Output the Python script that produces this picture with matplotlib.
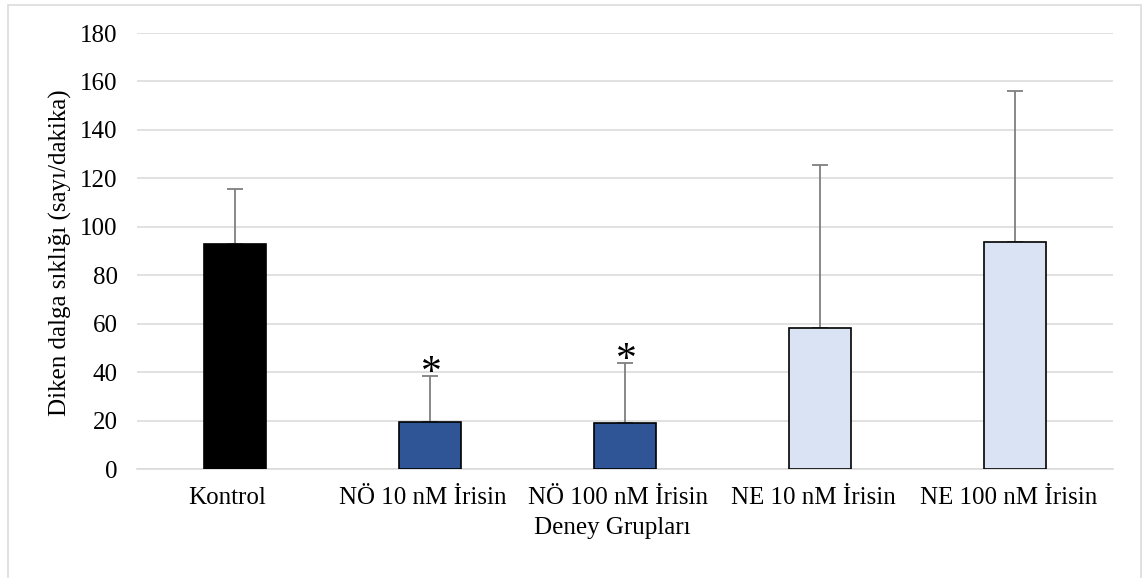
import matplotlib
matplotlib.use("Agg")
import matplotlib.pyplot as plt
import matplotlib.transforms as mtransforms
from matplotlib.patches import Rectangle

plt.rcParams['font.family'] = ['Liberation Serif', 'DejaVu Serif']

# Spike-wave frequency per experimental group (mean and upper SD)
groups = ["Kontrol", "NÖ 10 nM İrisin", "NÖ 100 nM İrisin", "NE 10 nM İrisin", "NE 100 nM İrisin"]
means = [92.8, 19.6, 19.1, 58.2, 93.7]
sds = [22.9, 18.8, 24.8, 67.3, 62.2]
significance = ["", "*", "*", "", ""]
bar_colors = ["#000000", "#2F5597", "#2F5597", "#DAE3F3", "#DAE3F3"]
y_ticks = [0, 20, 40, 60, 80, 100, 120, 140, 160, 180]

W, H = 1143, 578
fig = plt.figure(figsize=(W / 100, H / 100), dpi=100)
fig.patch.set_facecolor("white")

# light frame around the chart area
fig.patches.append(Rectangle((8 / W, -0.02), (1141 - 8) / W, 1 - 5 / H + 0.02,
                             transform=fig.transFigure, fill=False,
                             edgecolor="#D9D9D9", linewidth=1.1))

ax = fig.add_axes([137 / W, 1 - 469 / H, (1113 - 137) / W, (469 - 33) / H])
x = list(range(len(groups)))

ax.set_axisbelow(True)
ax.yaxis.grid(True, color="#D9D9D9", linewidth=1.1)
ax.bar(x, means, width=0.318, color=bar_colors, edgecolor="black", linewidth=1.2, zorder=3)
ax.errorbar(x, means, yerr=[[0] * len(sds), sds], fmt="none", ecolor="#7F7F7F",
            elinewidth=1.3, capsize=6, capthick=1.3, zorder=2)

for xi, m, s, mark in zip(x, means, sds, significance):
    if mark:
        ax.annotate(mark, (xi, m + s), xytext=(1, -6), textcoords="offset points",
                    ha="center", va="baseline", fontsize=30)

ax.set_xlim(-0.5, len(groups) - 0.5)
ax.set_ylim(0, 180)
ax.set_yticks(y_ticks)
ax.set_xticks(x)
ax.set_xticklabels(groups)
ax.tick_params(axis="both", length=0, labelsize=18)
ax.tick_params(axis="y", pad=14)
ax.tick_params(axis="x", pad=13)

shift = mtransforms.ScaledTranslation(-7 / 100, 0, fig.dpi_scale_trans)
for lbl in ax.get_xticklabels():
    lbl.set_transform(lbl.get_transform() + shift)

for sp in ["top", "right", "left"]:
    ax.spines[sp].set_visible(False)
ax.spines["bottom"].set_color("#D9D9D9")
ax.spines["bottom"].set_linewidth(1.1)

fig.text(60 / W, 1 - 253 / H, "Diken dalga sıklığı (sayı/dakika)", rotation=90,
         ha="center", va="center", fontsize=18)
fig.text(612 / W, 1 - 528 / H, "Deney Grupları", ha="center", va="center", fontsize=18)

fig.savefig("out.png", dpi=100, facecolor="white")
